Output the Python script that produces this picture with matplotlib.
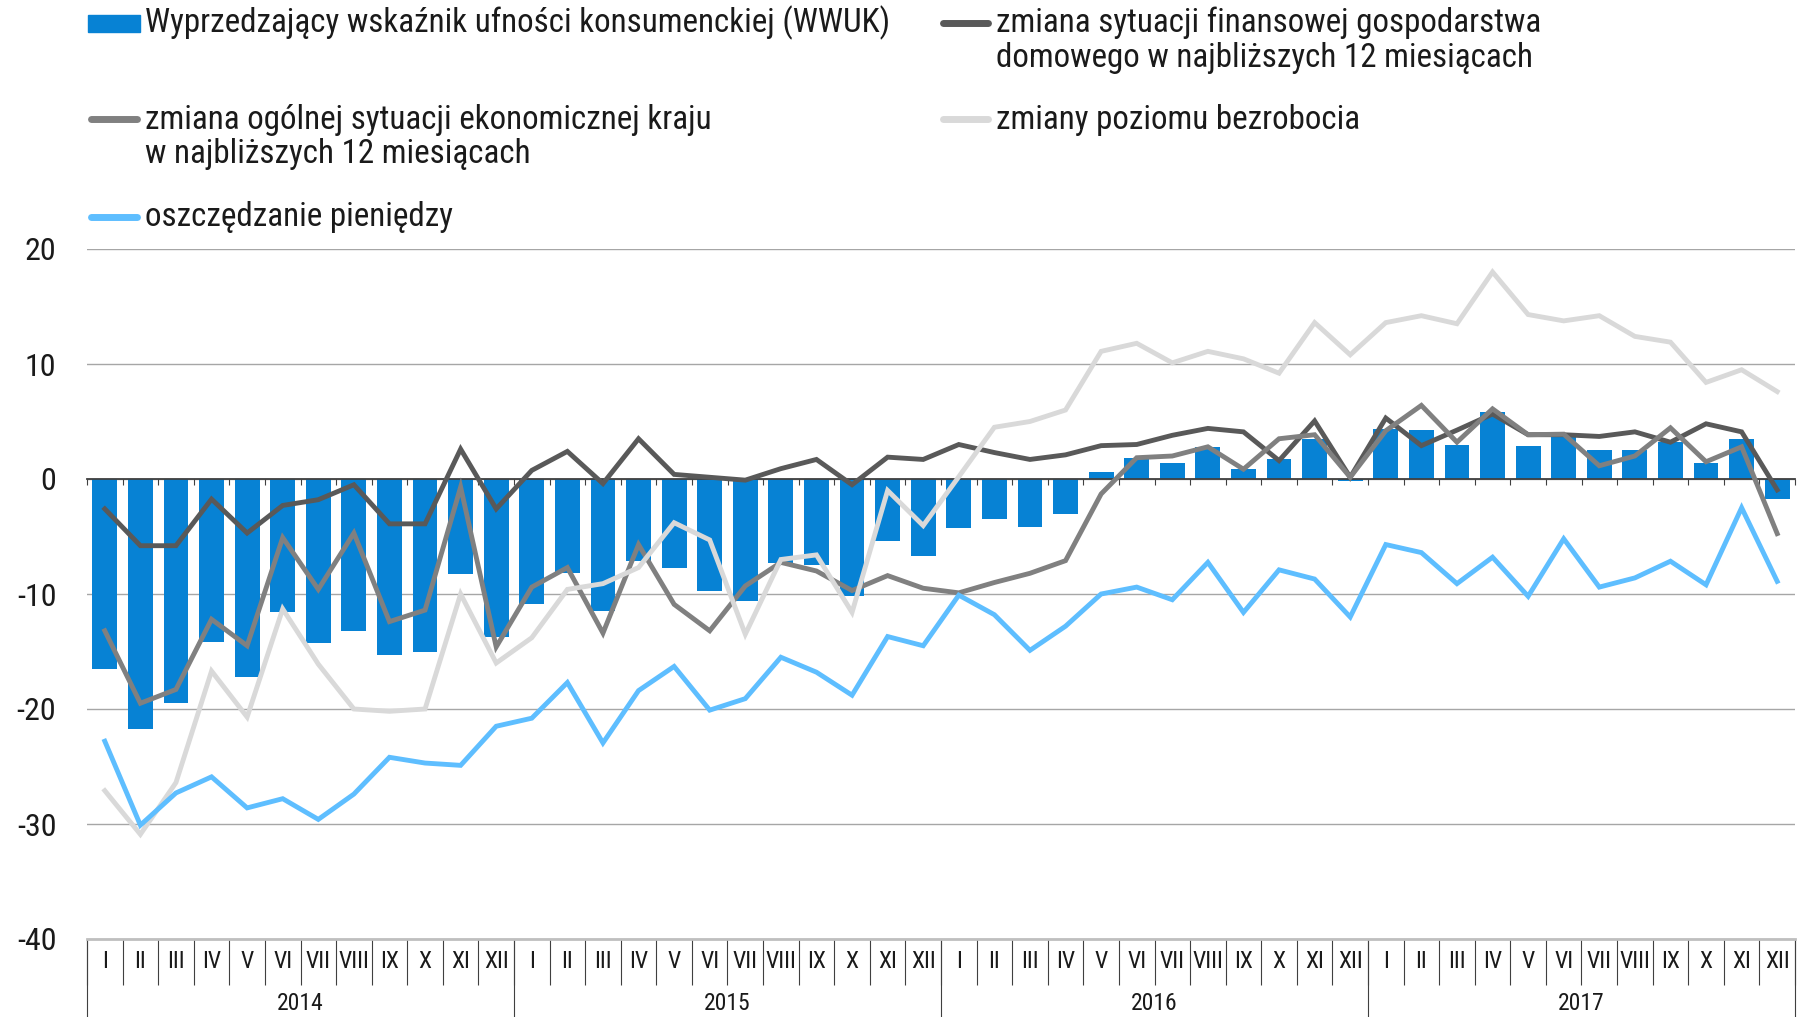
import matplotlib
matplotlib.use("Agg")
import matplotlib.pyplot as plt
from matplotlib import font_manager
from matplotlib.lines import Line2D
from matplotlib.patches import Rectangle
import numpy as np

# pick a condensed sans if one is installed
names = set(f.name for f in font_manager.fontManager.ttflist)
font = 'DejaVu Sans'
for cand in ['Liberation Sans Narrow', 'DejaVu Sans Condensed', 'Roboto Condensed', 'Open Sans Condensed']:
    if cand in names:
        font = cand
        break
plt.rcParams['font.family'] = [font, 'DejaVu Sans']
plt.rcParams['axes.unicode_minus'] = False

months = ['I', 'II', 'III', 'IV', 'V', 'VI', 'VII', 'VIII', 'IX', 'X', 'XI', 'XII']
years = ['2014', '2015', '2016', '2017']

wwuk = [-16.5, -21.75, -19.5, -14.2, -17.2, -11.6, -14.3, -13.2, -15.3, -15.0, -8.3, -13.7,
        -10.9, -8.2, -11.5, -7.1, -7.7, -9.7, -10.6, -7.3, -7.5, -10.2, -5.4, -6.7,
        -4.3, -3.5, -4.2, -3.0, 0.65, 1.85, 1.35, 2.75, 0.85, 1.7, 3.5, -0.15,
        4.35, 4.25, 3.0, 5.8, 2.9, 3.8, 2.5, 2.5, 3.2, 1.4, 3.45, -1.75]

household = [-2.6, -5.8, -5.8, -1.75, -4.7, -2.3, -1.8, -0.5, -3.9, -3.9, 2.6, -2.6,
             0.75, 2.4, -0.4, 3.5, 0.4, 0.15, -0.1, 0.9, 1.7, -0.5, 1.9, 1.7,
             3.0, 2.3, 1.7, 2.1, 2.9, 3.0, 3.8, 4.4, 4.1, 1.6, 5.05, 0.15,
             5.3, 2.9, 4.25, 5.65, 3.85, 3.85, 3.7, 4.1, 3.2, 4.8, 4.1, -0.95]

economy = [-13.2, -19.5, -18.3, -12.2, -14.5, -5.1, -9.6, -4.7, -12.4, -11.4, -0.7, -14.6,
           -9.4, -7.7, -13.4, -5.7, -10.9, -13.2, -9.3, -7.25, -8.0, -9.7, -8.4, -9.5,
           -9.9, -9.0, -8.2, -7.1, -1.3, 1.85, 2.0, 2.8, 0.85, 3.5, 3.85, 0.15,
           4.2, 6.4, 3.2, 6.1, 3.85, 3.9, 1.15, 2.0, 4.45, 1.5, 2.8, -4.75]

unemployment = [-27.1, -30.9, -26.4, -16.7, -20.7, -11.3, -16.1, -20.0, -20.2, -20.0, -10.0, -16.0,
                -13.8, -9.6, -9.1, -7.7, -3.8, -5.3, -13.5, -7.0, -6.6, -11.6, -1.0, -4.05,
                0.2, 4.5, 5.0, 6.0, 11.1, 11.8, 10.1, 11.1, 10.45, 9.2, 13.6, 10.8,
                13.6, 14.2, 13.5, 18.0, 14.3, 13.75, 14.2, 12.4, 11.9, 8.4, 9.5, 7.6]

savings = [-22.8, -30.1, -27.3, -25.9, -28.6, -27.8, -29.6, -27.4, -24.2, -24.7, -24.9, -21.5,
           -20.8, -17.7, -22.95, -18.4, -16.3, -20.1, -19.1, -15.5, -16.8, -18.8, -13.7, -14.5,
           -10.1, -11.8, -14.9, -12.8, -10.0, -9.4, -10.5, -7.25, -11.6, -7.9, -8.7, -12.0,
           -5.7, -6.4, -9.1, -6.8, -10.2, -5.2, -9.4, -8.6, -7.15, -9.2, -2.5, -8.9]

labels = [['Wyprzedzający wskaźnik ufności konsumenckiej (WWUK)'],
          ['zmiana sytuacji finansowej gospodarstwa', 'domowego w najbliższych 12 miesiącach'],
          ['zmiana ogólnej sytuacji ekonomicznej kraju', 'w najbliższych 12 miesiącach'],
          ['zmiany poziomu bezrobocia'],
          ['oszczędzanie pieniędzy']]

c_bar = '#0782D4'
c_dark = '#595959'
c_mid = '#808080'
c_light = '#D9D9D9'
c_blue = '#5EBEFF'
txt = '#1A1A1A'

W, H = 1802, 1017
fig = plt.figure(figsize=(W / 100, H / 100), dpi=100)
ax = fig.add_axes([87 / W, 1 - 939 / H, (1795 - 87) / W, (939 - 249) / H])

n = len(wwuk)
x = np.arange(n)
ax.bar(x, wwuk, width=0.7, color=c_bar, zorder=1)
lw = 3.5
ax.plot(x, household, color=c_dark, lw=lw, zorder=3, solid_joinstyle='miter')
ax.plot(x, economy, color=c_mid, lw=lw, zorder=4, solid_joinstyle='miter')
ax.plot(x, unemployment, color=c_light, lw=lw, zorder=5, solid_joinstyle='miter')
ax.plot(x, savings, color=c_blue, lw=lw, zorder=6, solid_joinstyle='miter')

ax.set_xlim(-0.5, n - 0.5)
ax.set_ylim(-40, 20)
ax.set_yticks([-40, -30, -20, -10, 0, 10, 20])
ax.tick_params(axis='y', length=0, pad=22, labelsize=23, labelcolor=txt)
ax.yaxis.grid(True, color='#A6A6A6', lw=1.0)
ax.set_axisbelow(True)
for s in ['top', 'left', 'right']:
    ax.spines[s].set_visible(False)
ax.spines['bottom'].set_color('#BFBFBF')
ax.spines['bottom'].set_linewidth(2)

# month boundaries and labels
ax.set_xticks(np.arange(n + 1) - 0.5)
ax.set_xticklabels([])
ax.tick_params(axis='x', which='major', length=33, width=0.8, color='#404040')
ax.set_xticks(x, minor=True)
ax.set_xticklabels(months * len(years), minor=True)
ax.tick_params(axis='x', which='minor', length=0, pad=8, labelsize=17, labelcolor=txt)

# year boundaries and labels
sec = ax.secondary_xaxis('bottom')
sec.spines['bottom'].set_visible(False)
sec.set_xticks(np.arange(len(years) + 1) * 12 - 0.5)
sec.set_xticklabels([])
sec.tick_params(axis='x', which='major', length=57, width=0.8, color='#404040')
sec.set_xticks(np.arange(len(years)) * 12 + 5.5, minor=True)
sec.set_xticklabels(years, minor=True)
sec.tick_params(axis='x', which='minor', length=0, pad=38, labelsize=17, labelcolor=txt)

# zero line with small ticks
zero = ax.secondary_xaxis(2 / 3)
zero.set_zorder(2)
zero.spines['top'].set_color('#404040')
zero.spines['top'].set_linewidth(1.3)
zero.set_xticks(np.arange(n + 1) - 0.5)
zero.set_xticklabels([])
zero.tick_params(axis='x', direction='in', length=4, width=0.8, color='#404040')

# legend drawn by hand
def handle_line(x0, x1, y, color):
    fig.add_artist(Line2D([x0 / W, x1 / W], [1 - y / H, 1 - y / H], color=color, lw=5,
                          solid_capstyle='round', transform=fig.transFigure))

fig.add_artist(Rectangle((88 / W, 1 - 32 / H), 52 / W, 17 / H, color=c_bar, transform=fig.transFigure))
handle_line(91, 137, 119, c_mid)
handle_line(91, 137, 217, c_blue)
handle_line(943, 988, 23, c_dark)
handle_line(943, 988, 119, c_light)

fs = 23.8
legend_pos = [(145, 23), (996, 23), (145, 120), (996, 120), (145, 217)]
for (lx, ly), lines in zip(legend_pos, labels):
    for k, line in enumerate(lines):
        fig.text(lx / W, 1 - (ly + 34.5 * k) / H, line, fontsize=fs, color=txt, va='center')

fig.savefig('out.png', dpi=100)
